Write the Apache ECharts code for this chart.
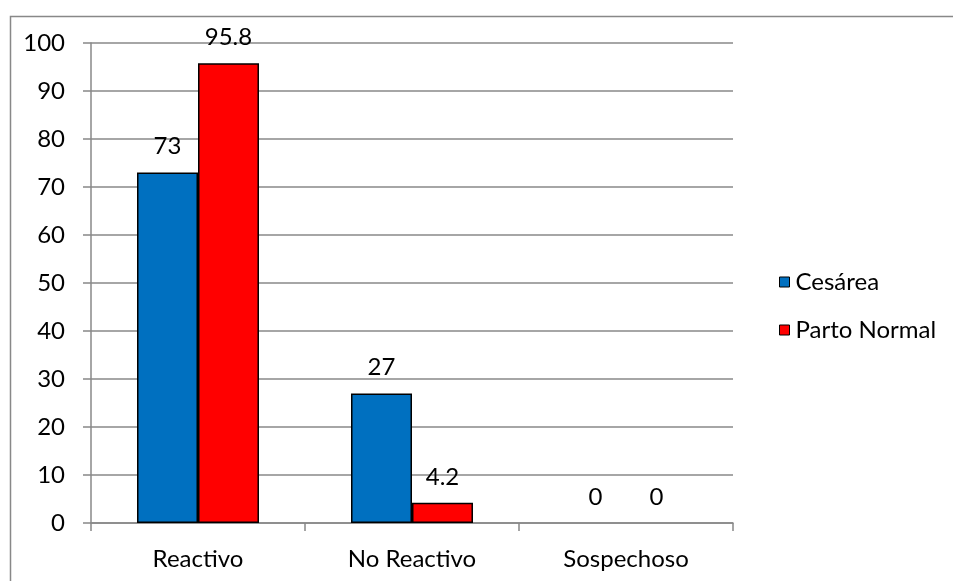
<!DOCTYPE html>
<html>
<head>
<meta charset="utf-8">
<script src="https://cdn.jsdelivr.net/npm/echarts@6/dist/echarts.min.js"></script>
<style>
  html, body { margin: 0; padding: 0; background: #fff; }
  #chart { width: 953px; height: 581px; }
</style>
</head>
<body>
<div id="chart"></div>
<script>
// Categories and values (percentages)
const categories = ['Reactivo', 'No Reactivo', 'Sospechoso'];
const cesarea = [73, 27, 0];
const partoNormal = [95.8, 4.2, 0];
const yTicks = [0, 10, 20, 30, 40, 50, 60, 70, 80, 90, 100];

const FONT = 'Lato, "Open Sans", sans-serif';
const FONT_SIZE = 24;
const GRAY = '#888888';

const chart = echarts.init(document.getElementById('chart'), null, { renderer: 'canvas' });

const labelStyle = {
  show: true,
  position: 'top',
  distance: 14,
  color: '#000',
  fontFamily: FONT,
  fontSize: FONT_SIZE
};

// Zero-height bars get no outline so nothing shows at the baseline
const toBarData = (values) => values.map(v => ({
  value: v,
  itemStyle: v === 0 ? { borderWidth: 0 } : {}
}));

chart.setOption({
  animation: false,
  backgroundColor: '#fff',
  graphic: [{
    type: 'rect',
    left: 8,
    top: 14,
    shape: { width: 1200, height: 1200 },
    style: { fill: 'none', stroke: GRAY, lineWidth: 1.5 },
    silent: true
  }],
  grid: { left: 91, right: 220, top: 43, bottom: 58, containLabel: false },
  legend: {
    orient: 'vertical',
    left: 774,
    top: 265,
    itemWidth: 10,
    itemHeight: 10,
    itemGap: 24,
    icon: 'rect',
    textStyle: { fontFamily: FONT, fontSize: FONT_SIZE, color: '#000', padding: [0, 0, 0, 1] },
    itemStyle: { borderColor: '#000', borderWidth: 1 },
    data: ['Cesárea', 'Parto Normal']
  },
  xAxis: {
    type: 'category',
    data: categories,
    axisLine: { lineStyle: { color: GRAY, width: 1.5 } },
    axisTick: { show: true, length: 8, lineStyle: { color: GRAY, width: 1.5 } },
    axisLabel: { color: '#000', fontFamily: FONT, fontSize: FONT_SIZE, margin: 24 }
  },
  yAxis: {
    type: 'value',
    min: yTicks[0],
    max: yTicks[yTicks.length - 1],
    interval: yTicks[1] - yTicks[0],
    axisLine: { show: true, lineStyle: { color: GRAY, width: 1.5 } },
    axisTick: { show: true, length: 8, lineStyle: { color: GRAY, width: 1.5 } },
    splitLine: { lineStyle: { color: GRAY, width: 1.5 } },
    axisLabel: { color: '#000', fontFamily: FONT, fontSize: FONT_SIZE, margin: 26 }
  },
  series: [
    {
      name: 'Cesárea',
      type: 'bar',
      data: toBarData(cesarea),
      barGap: '0%',
      barCategoryGap: '43%',
      itemStyle: { color: '#0070C0', borderColor: '#000', borderWidth: 1.5 },
      label: labelStyle
    },
    {
      name: 'Parto Normal',
      type: 'bar',
      data: toBarData(partoNormal),
      barGap: '0%',
      barCategoryGap: '43%',
      itemStyle: { color: '#FF0000', borderColor: '#000', borderWidth: 1.5 },
      label: labelStyle
    }
  ]
});
</script>
</body>
</html>
